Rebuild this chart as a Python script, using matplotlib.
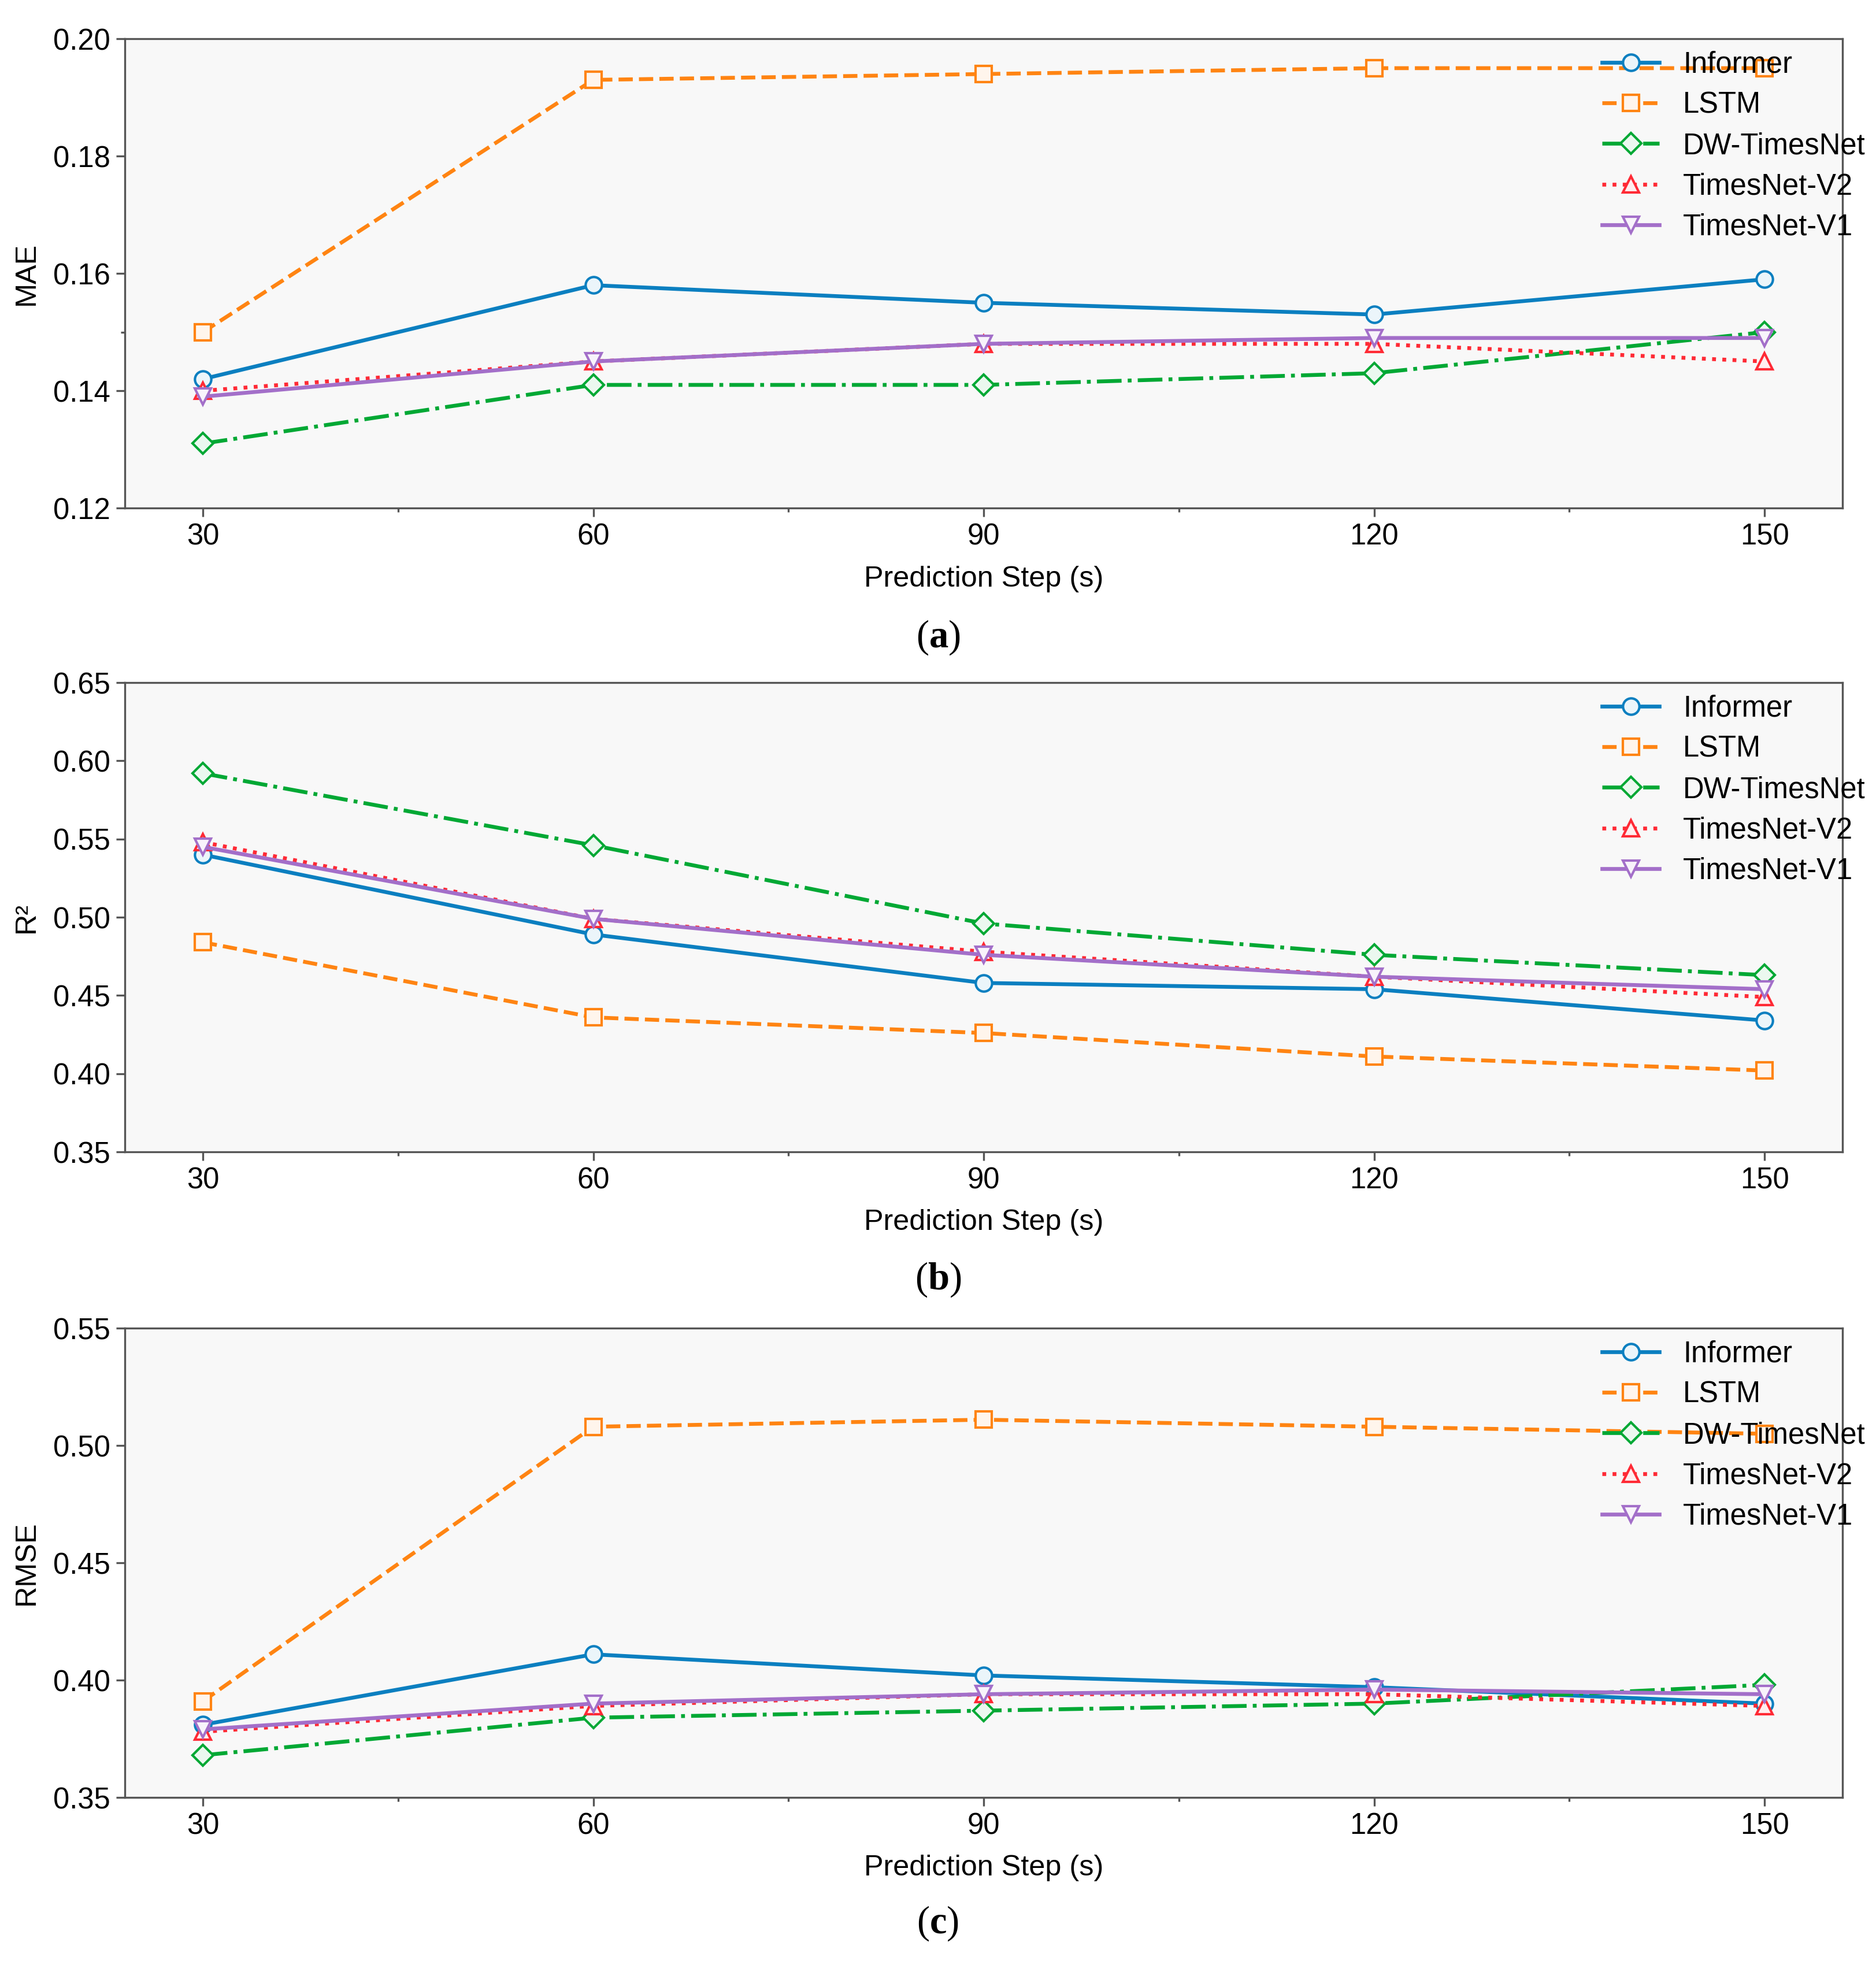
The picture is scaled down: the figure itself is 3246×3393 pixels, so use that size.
import numpy as np
import matplotlib.pyplot as plt
from matplotlib.ticker import MultipleLocator
from matplotlib.colors import to_rgb

plt.rcParams['font.family'] = ['Liberation Sans', 'DejaVu Sans']
plt.rcParams['mathtext.fontset'] = 'custom'
plt.rcParams['mathtext.rm'] = 'Liberation Serif'
plt.rcParams['mathtext.bf'] = 'Liberation Serif:bold'

steps = [30, 60, 90, 120, 150]
models = ['Informer', 'LSTM', 'DW-TimesNet', 'TimesNet-V2', 'TimesNet-V1']

mae_informer = [0.142, 0.158, 0.155, 0.153, 0.159]
mae_lstm = [0.150, 0.193, 0.194, 0.195, 0.195]
mae_dw = [0.131, 0.141, 0.141, 0.143, 0.150]
mae_v2 = [0.140, 0.145, 0.148, 0.148, 0.145]
mae_v1 = [0.139, 0.145, 0.148, 0.149, 0.149]

r2_informer = [0.540, 0.489, 0.458, 0.454, 0.434]
r2_lstm = [0.484, 0.436, 0.426, 0.411, 0.402]
r2_dw = [0.592, 0.546, 0.496, 0.476, 0.463]
r2_v2 = [0.548, 0.499, 0.478, 0.462, 0.449]
r2_v1 = [0.545, 0.499, 0.476, 0.462, 0.454]

rmse_informer = [0.381, 0.411, 0.402, 0.397, 0.390]
rmse_lstm = [0.391, 0.508, 0.511, 0.508, 0.505]
rmse_dw = [0.368, 0.384, 0.387, 0.390, 0.398]
rmse_v2 = [0.378, 0.389, 0.394, 0.394, 0.389]
rmse_v1 = [0.379, 0.390, 0.394, 0.396, 0.394]

colors = ['#0b7fc0', '#ff8412', '#00a834', '#ff2a35', '#a36fc9']
styles = ['-', '--', '-.', ':', '-']
markers = ['o', 's', 'D', '^', 'v']
msizes = [6.8, 6.8, 6.2, 6.8, 6.8]


def light(c, f=0.92):
    r, g, b = to_rgb(c)
    return (r + (1 - r) * f, g + (1 - g) * f, b + (1 - b) * f)


panels = [
    ('MAE', [mae_informer, mae_lstm, mae_dw, mae_v2, mae_v1], (0.12, 0.20), 0.02),
    ('R\u00b2', [r2_informer, r2_lstm, r2_dw, r2_v2, r2_v1], (0.35, 0.65), 0.05),
    ('RMSE', [rmse_informer, rmse_lstm, rmse_dw, rmse_v2, rmse_v1], (0.35, 0.55), 0.05),
]

fig = plt.figure(figsize=(10.82, 11.31), dpi=300)
bottoms = [0.7409, 0.4126, 0.0834]
label_y = [0.6749, 0.3475, 0.0192]
tags = ['a', 'b', 'c']

for k, (ylab, series, ylim, ystep) in enumerate(panels):
    ax = fig.add_axes([0.0665, bottoms[k], 0.9157, 0.2393])
    ax.set_facecolor('#f8f8f8')
    for i, vals in enumerate(series):
        ax.plot(steps, vals, linestyle=styles[i], color=colors[i], lw=1.6,
                marker=markers[i], markersize=msizes[i], mfc=light(colors[i]),
                mec=colors[i], mew=1.0, label=models[i])
    ax.set_ylim(*ylim)
    ax.set_xticks(steps)
    ax.xaxis.set_minor_locator(MultipleLocator(15))
    ax.yaxis.set_major_locator(MultipleLocator(ystep))
    if k == 0:
        ax.set_yticks([0.15], minor=True)
    ax.yaxis.set_major_formatter(plt.FormatStrFormatter('%.2f'))
    for s in ax.spines.values():
        s.set_color('#555555')
        s.set_linewidth(0.8)
    ax.tick_params(which='major', direction='out', length=3.6, width=0.8,
                   color='#555555', labelsize=12.2, pad=2.5)
    ax.tick_params(which='minor', direction='out', length=1.6, width=0.8,
                   color='#555555')
    ax.set_xlabel('Prediction Step (s)', fontsize=12.1, labelpad=6)
    ax.set_ylabel(ylab, fontsize=12.1, labelpad=5.5)
    ax.legend(loc='upper left', bbox_to_anchor=(0.86, 0.975), frameon=False,
              fontsize=12.2, borderpad=0, borderaxespad=0, labelspacing=0.42,
              handlelength=1.95, handletextpad=0.8)
    fig.text(0.5, label_y[k], '(' + r'$\mathbf{' + tags[k] + '}$' + ')',
             ha='center', va='center', fontsize=16, family='Liberation Serif')

fig.savefig('out.png', dpi=300, facecolor='white')
